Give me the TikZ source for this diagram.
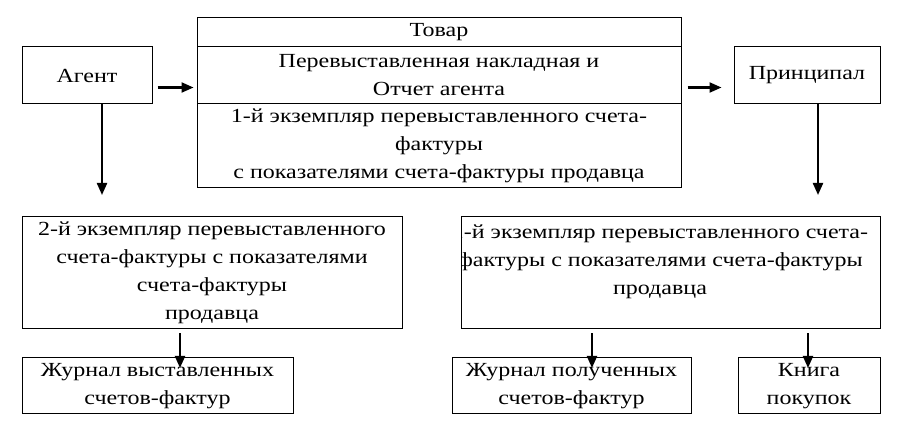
\documentclass[tikz,border=0pt]{standalone}
\usepackage{fontspec}
\setmainfont{Liberation Serif}[FakeStretch=1.2]
\usepackage{xcolor}
\usetikzlibrary{arrows.meta}

\begin{document}
\begin{tikzpicture}[x=1pt, y=-1pt,
    txt/.style={inner sep=0pt, align=center, font=\fontsize{20}{28}\selectfont},
    box/.style={txt, draw, line width=1pt},
    arr/.style={line width=2.2pt, -{Triangle[length=12pt, width=10pt]}}]
  \useasboundingbox (0,0) rectangle (922,438);
    {
      \node[box, minimum width=130pt, minimum height=57pt] (agent) at (87, 75.5) {Агент};
      \node[box, minimum width=146pt, minimum height=57pt] (principal) at (807, 75.5) {Принципал};
    }
    {
      \node[box, minimum width=484pt, minimum height=29pt] (tovar) at (439, 32.5) {Товар};
      \node[box, minimum width=484pt, minimum height=57pt] (nakl) at (439, 75.5)
        {Перевыставленная накладная и\\Отчет агента};
      \node[box, minimum width=484pt, minimum height=84pt] (ekz1) at (439, 146)
        {1-й экземпляр перевыставленного счета-\\фактуры\\с показателями счета-фактуры продавца};
    }
    {
      \node[box, minimum width=380pt, minimum height=112pt] (ekz2) at (212, 273)
        {2-й экземпляр перевыставленного\\счета-фактуры с показателями\\счета-фактуры\\продавца};
      \node[box, minimum width=419pt, minimum height=112pt] (ekz3) at (670.5, 273) {};
      \begin{scope}
        \clip (461, 210) rectangle (890, 335);
        \node[txt] (ekz3text) at (660, 262)
          {1-й экземпляр перевыставленного счета-\\фактуры с показателями счета-фактуры\\продавца};
      \end{scope}
    }
    {
      \node[box, minimum width=271pt, minimum height=56pt] (jvyst) at (157.5, 386)
        {Журнал выставленных\\счетов-фактур};
      \node[box, minimum width=239pt, minimum height=56pt] (jpol) at (571.5, 386)
        {Журнал полученных\\счетов-фактур};
      \node[box, minimum width=142pt, minimum height=56pt] (kniga) at (809, 386)
        {Книга\\покупок};
    }
    \coordinate (agentend) at (102, 195);
    \coordinate (princend) at (818, 195);
    \coordinate (jvystend) at (180, 368);
    \coordinate (jpolend) at (592, 368);
    \coordinate (knigaend) at (808, 368);
    \draw[arr, shorten <=5pt, shorten >=3pt] ([yshift=-12pt]agent.east) -- ([yshift=-12pt]nakl.west);
    \draw[arr, shorten <=6pt, shorten >=12pt] ([yshift=-12pt]nakl.east) -- ([yshift=-12pt]principal.west);
    \draw[arr] (agentend |- agent.south) -- (agentend);
    \draw[arr] (princend |- principal.south) -- (princend);
    \draw[arr, shorten <=4pt] (jvystend |- ekz2.south) -- (jvystend);
    \draw[arr, shorten <=4pt] (jpolend |- ekz3.south) -- (jpolend);
    \draw[arr, shorten <=4pt] (knigaend |- ekz3.south) -- (knigaend);
  \end{tikzpicture}
\end{document}
